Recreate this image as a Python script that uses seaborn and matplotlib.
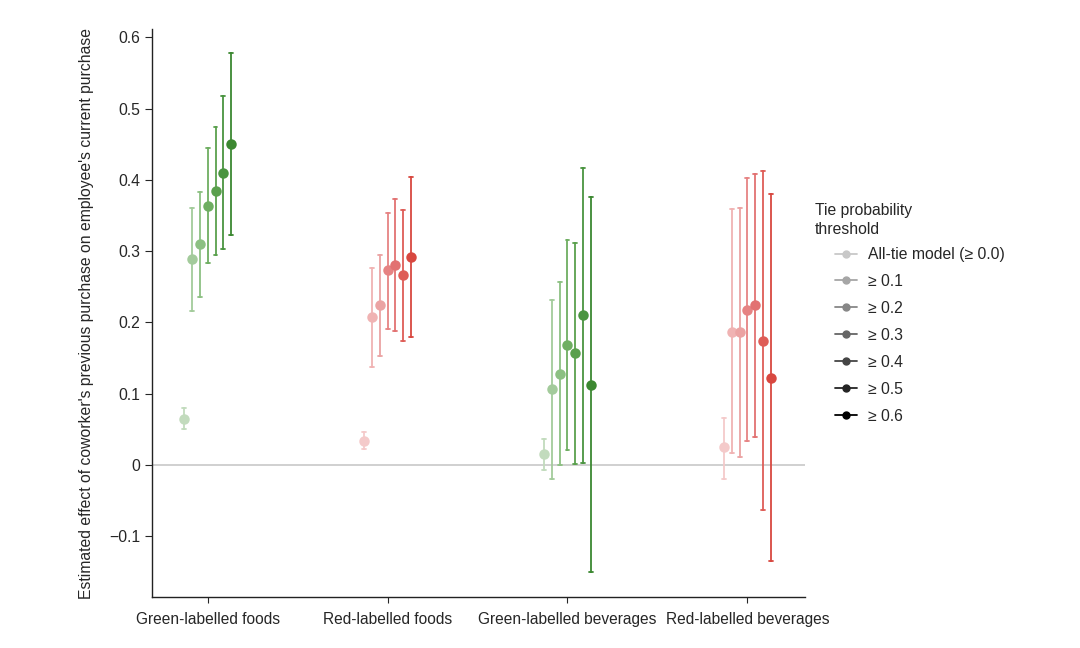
import matplotlib
matplotlib.use("Agg")
import matplotlib.pyplot as plt
from matplotlib.lines import Line2D
import seaborn as sns
import pandas as pd

# categories and hue levels
categories = ["Green-labelled foods", "Red-labelled foods",
              "Green-labelled beverages", "Red-labelled beverages"]
thresholds = ["All-tie model (\u2265 0.0)", "\u2265 0.1", "\u2265 0.2", "\u2265 0.3",
              "\u2265 0.4", "\u2265 0.5", "\u2265 0.6"]

# point estimates and interval bounds (ordered by threshold)
est_green_foods = [0.065, 0.289, 0.310, 0.363, 0.384, 0.410, 0.450]
lo_green_foods = [0.050, 0.216, 0.236, 0.284, 0.295, 0.303, 0.323]
hi_green_foods = [0.080, 0.361, 0.383, 0.444, 0.474, 0.517, 0.578]

est_red_foods = [0.034, 0.207, 0.224, 0.273, 0.281, 0.266, 0.292]
lo_red_foods = [0.023, 0.138, 0.153, 0.191, 0.188, 0.174, 0.179]
hi_red_foods = [0.046, 0.277, 0.295, 0.354, 0.373, 0.358, 0.404]

est_green_bev = [0.015, 0.106, 0.128, 0.168, 0.157, 0.210, 0.112]
lo_green_bev = [-0.007, -0.020, 0.000, 0.021, 0.001, 0.003, -0.150]
hi_green_bev = [0.037, 0.232, 0.257, 0.315, 0.312, 0.416, 0.376]

est_red_bev = [0.025, 0.187, 0.186, 0.218, 0.224, 0.174, 0.122]
lo_red_bev = [-0.019, 0.017, 0.011, 0.034, 0.039, -0.063, -0.134]
hi_red_bev = [0.066, 0.359, 0.361, 0.402, 0.408, 0.413, 0.380]

green_colors = ["#c2dbbd", "#a3cb9b", "#8cc082", "#6eae61", "#5aa04d", "#4a9440", "#3c8831"]
red_colors = ["#f4caca", "#f0b3b3", "#eba3a3", "#e68383", "#e27272", "#de5d57", "#d84840"]
legend_grays = ["#c8c8c8", "#a6a6a6", "#878787", "#666666", "#454545", "#242424", "#000000"]

ytick_vals = [-0.1, 0, 0.1, 0.2, 0.3, 0.4, 0.5, 0.6]
ytick_labels = ["\u22120.1", "0", "0.1", "0.2", "0.3", "0.4", "0.5", "0.6"]


def long_rows(cat, est, lo, hi):
    # three rows per point: median gives the estimate, min/max give the interval
    rows = []
    for t, e, l, h in zip(thresholds, est, lo, hi):
        for v in (l, e, h):
            rows.append({"category": cat, "threshold": t, "value": v})
    return rows


green_df = pd.DataFrame(long_rows(categories[0], est_green_foods, lo_green_foods, hi_green_foods)
                        + long_rows(categories[2], est_green_bev, lo_green_bev, hi_green_bev))
red_df = pd.DataFrame(long_rows(categories[1], est_red_foods, lo_red_foods, hi_red_foods)
                      + long_rows(categories[3], est_red_bev, lo_red_bev, hi_red_bev))

sns.set_style("ticks")
plt.rcParams["font.family"] = ["Liberation Sans", "DejaVu Sans"]

fig = plt.figure(figsize=(10.8, 6.48), dpi=100)
ax = fig.add_axes([0.1407, 0.0787, 0.6046, 0.8765])

ax.axhline(0, color="#c4c4c4", linewidth=1.1, zorder=0)

for df, pal in [(green_df, green_colors), (red_df, red_colors)]:
    sns.pointplot(data=df, x="category", y="value", hue="threshold",
                  order=categories, hue_order=thresholds,
                  palette=pal, estimator="median",
                  errorbar=lambda v: (v.min(), v.max()),
                  dodge=0.26, capsize=0.022, linestyle="none",
                  markersize=5.5, err_kws={"linewidth": 1.3},
                  legend=False, ax=ax)

ax.set_xlim(-0.31, 3.32)
ax.set_ylim(-0.185, 0.6115)
ax.set_yticks(ytick_vals)
ax.set_yticklabels(ytick_labels, fontsize=11.3)
ax.tick_params(axis="x", labelsize=11.2, length=4, pad=7)
ax.tick_params(axis="y", length=5)
ax.set_xlabel("")
ax.set_ylabel("Estimated effect of coworker's previous purchase on employee's current purchase",
              fontsize=11.3, labelpad=11)
sns.despine(ax=ax)
for side in ["left", "bottom"]:
    ax.spines[side].set_color("#222222")
    ax.spines[side].set_linewidth(1.0)

# legend title as separate text so the entries sit indented below it
fig.text(815 / 1080, 1 - 203 / 648, "Tie probability\nthreshold",
         fontsize=11.3, va="top", ha="left", linespacing=1.35)
handles = [Line2D([0], [0], color=c, marker="o", markersize=5, linewidth=1.3)
           for c in legend_grays]
fig.legend(handles, thresholds, loc="upper left",
           bbox_to_anchor=(835 / 1080, 1 - 247 / 648), borderaxespad=0, borderpad=0,
           frameon=False, fontsize=11.3, handlelength=1.4, handletextpad=0.7,
           labelspacing=0.76)

fig.savefig("out.png", dpi=100)
